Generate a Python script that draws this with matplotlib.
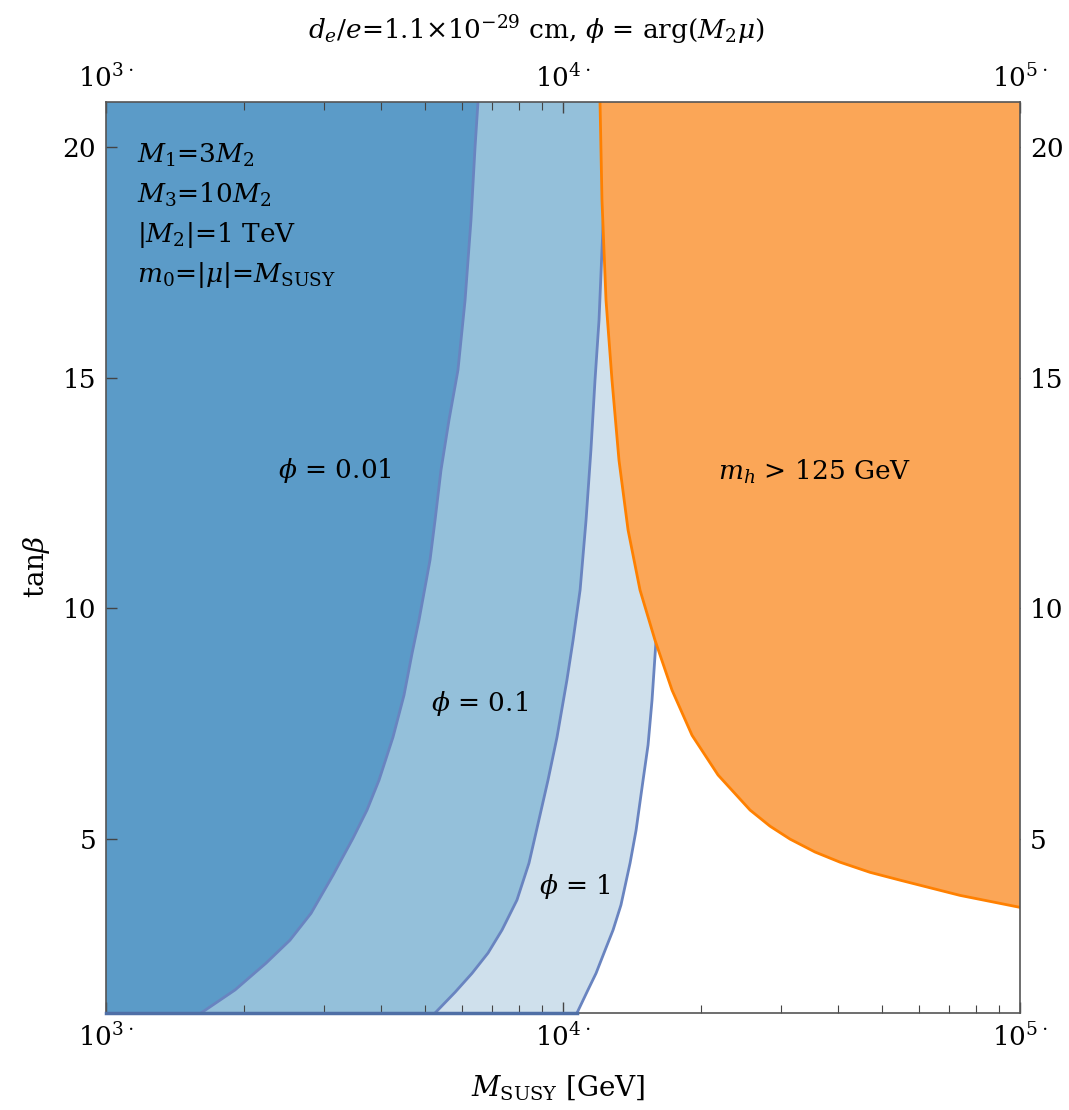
import numpy as np
import matplotlib.pyplot as plt
from matplotlib.ticker import FuncFormatter, LogLocator, NullFormatter, FixedLocator

plt.rcParams['font.family'] = 'DejaVu Serif'
plt.rcParams['mathtext.fontset'] = 'dejavuserif'

# contour boundaries: tan(beta) and M_SUSY [GeV]
tb_001 = [20.98, 20.0, 18.42, 16.68, 15.17, 14.08, 13.00, 11.91, 11.05, 10.46, 9.75, 9.03,
          8.12, 7.21, 6.28, 5.63, 5.02, 4.22, 3.39, 2.81, 2.31, 1.73, 1.23]
m_001 = [6516, 6420, 6290, 6105, 5891, 5629, 5408, 5248, 5117, 4990, 4841, 4675,
         4488, 4246, 3958, 3725, 3471, 3139, 2809, 2527, 2239, 1916, 1614]

tb_01 = [20.98, 19.28, 17.77, 16.25, 14.95, 13.43, 11.91, 10.40, 9.31, 8.45, 7.21, 6.28,
         5.52, 4.48, 3.68, 3.03, 2.53, 2.09, 1.68, 1.23]
m_01 = [12490, 12360, 12170, 11990, 11750, 11510, 11230, 10900, 10520, 10200, 9703, 9273,
        8906, 8425, 7930, 7355, 6853, 6322, 5805, 5248]

tb_1 = [20.98, 16.68, 11.26, 9.31, 8.01, 7.04, 6.28, 5.19, 4.48, 3.57, 3.03, 2.59, 2.09,
        1.73, 1.23]
m_1 = [24400, 19940, 17150, 15980, 15660, 15350, 14970, 14450, 14020, 13390, 12870, 12360,
       11810, 11340, 10730]

# higgs mass bound m_h = 125 GeV
tb_mh = [20.98, 18.85, 16.68, 14.95, 13.21, 11.70, 10.40, 9.31, 8.23, 7.25, 6.39, 5.63,
         5.28, 5.00, 4.72, 4.50, 4.28, 4.11, 3.78, 3.52]
m_mh = [12050, 12170, 12420, 12800, 13260, 13880, 14740, 15900, 17320, 19160, 21840, 25660,
        28380, 31390, 35600, 40370, 46960, 54630, 73900, 100000]

x_min, x_max = 1e3, 1e5
y_min, y_max = 1.23, 20.98

c_dark = '#5b9bc8'
c_mid = '#94c0da'
c_light = '#cfe0ec'
c_edge = '#6984c0'
c_orange_fill = '#fba657'
c_orange_line = '#ff8000'

fig = plt.figure(figsize=(10.69, 11.10), dpi=100)
ax = fig.add_axes([106/1069, 1 - 1013/1110, 914/1069, 911/1110])

# filled regions
ax.fill(np.r_[m_001, x_min, x_min], np.r_[tb_001, y_min, y_max], color=c_dark, lw=0)
ax.fill(np.r_[m_001, m_01[::-1]], np.r_[tb_001, tb_01[::-1]], color=c_mid, lw=0)
ax.fill(np.r_[m_01, m_1[::-1]], np.r_[tb_01, tb_1[::-1]], color=c_light, lw=0)
for m, tb in [(m_001, tb_001), (m_01, tb_01), (m_1, tb_1)]:
    ax.plot(m, tb, color=c_edge, lw=2)
ax.plot([x_min, m_1[-1]], [y_min, y_min], color='#4f6fa6', lw=2.5, clip_on=False, zorder=6)

ax.fill(np.r_[m_mh, x_max], np.r_[tb_mh, y_max], color=c_orange_fill, lw=0, zorder=3)
ax.plot(m_mh, tb_mh, color=c_orange_line, lw=2, zorder=4)

ax.set_xscale('log')
ax.set_xlim(x_min, x_max)
ax.set_ylim(y_min, y_max)

ax.xaxis.set_major_locator(FixedLocator([1e3, 1e4, 1e5]))
ax.xaxis.set_major_formatter(FuncFormatter(lambda v, p: r'$10^{%d\cdot}$' % round(np.log10(v))))
ax.xaxis.set_minor_locator(LogLocator(base=10, subs=np.arange(2, 10)))
ax.xaxis.set_minor_formatter(NullFormatter())
ax.set_yticks([5, 10, 15, 20])

ax.tick_params(which='both', direction='in', top=True, right=True,
               labeltop=True, labelright=True, labelsize=19, color='#444444')
ax.tick_params(which='major', length=8, width=1, pad=7)
ax.tick_params(which='minor', length=6, width=0.8)
for s in ax.spines.values():
    s.set_color('#555555')
    s.set_linewidth(1.2)
    s.set_zorder(5)

# labels
fig.text(536/1069, 1 - 30/1110, r'$d_e/e$=1.1$\times$10$^{-29}$ cm, $\phi$ = arg($M_2\mu$)',
         ha='center', va='center', fontsize=19)
fig.text(558/1069, 1 - 1088/1110, r'$M_{\mathrm{SUSY}}$ [GeV]', ha='center', va='center', fontsize=20)
fig.text(36/1069, 1 - 567/1110, r'tan$\beta$', ha='center', va='center', fontsize=20, rotation=90)

notes = [r'$M_1$=3$M_2$', r'$M_3$=10$M_2$', r'$|M_2|$=1 TeV', r'$m_0$=$|\mu|$=$M_{\mathrm{SUSY}}$']
for i, t in enumerate(notes):
    ax.text(1170, 19.83 - 0.87 * i, t, fontsize=19, ha='left', va='center', zorder=6)

ax.text(3170, 13.0, r'$\phi$ = 0.01', fontsize=19, ha='center', va='center', zorder=6)
ax.text(6580, 7.95, r'$\phi$ = 0.1', fontsize=19, ha='center', va='center', zorder=6)
ax.text(10630, 3.98, r'$\phi$ = 1', fontsize=19, ha='center', va='center', zorder=6)
ax.text(35600, 12.95, r'$m_h$ > 125 GeV', fontsize=19, ha='center', va='center', zorder=6)

fig.savefig('out.png', dpi=100)
